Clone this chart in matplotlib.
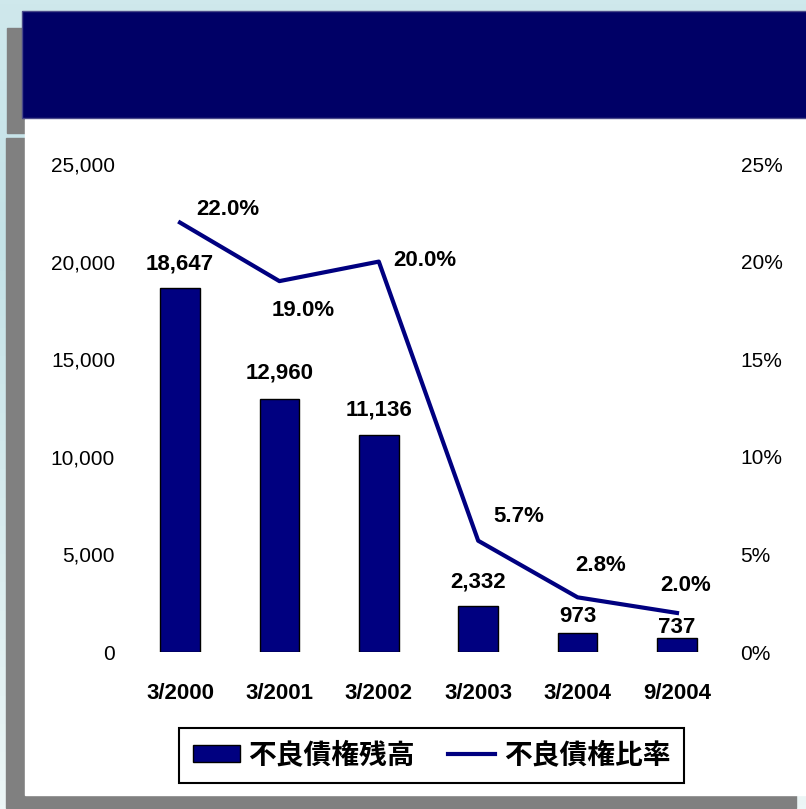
import numpy as np
import matplotlib.pyplot as plt
from matplotlib.patches import Rectangle, Patch
from matplotlib.lines import Line2D

# bad-loan balance (100 million yen) and bad-loan ratio (%)
periods = ['3/2000', '3/2001', '3/2002', '3/2003', '3/2004', '9/2004']
npl_balance = [18647, 12960, 11136, 2332, 973, 737]
npl_ratio = [22.0, 19.0, 20.0, 5.7, 2.8, 2.0]
legend_labels = ['不良債権残高', '不良債権比率']

# label offsets in pixels (dx, dy)
bar_label_dy = [24, 26, 25, 24, 17, 10]
ratio_label_off = [(48, 13), (24, -29), (46, 1), (41, 24), (23, 32), (9, 27)]

navy = '#000080'
latin = 'Liberation Sans'
cjk = ['Noto Sans CJK JP', 'DejaVu Sans']

W, H = 806, 809
fig = plt.figure(figsize=(W / 100, H / 100), dpi=100)

# slide background, shadows, white panel and title banner (pixel coords)
bg = fig.add_axes([0, 0, 1, 1])
bg.set_xlim(0, W)
bg.set_ylim(H, 0)
bg.axis('off')
top = np.array([207, 232, 236]) / 255
mid = np.array([196, 226, 231]) / 255
bot = np.array([236, 246, 246]) / 255
t = np.linspace(0, 1, 200)[:, None]
grad = np.where(t < 0.3, top + (mid - top) * (t / 0.3), mid + (bot - mid) * ((t - 0.3) / 0.7))
bg.imshow(grad[:, None, :], extent=[0, W, H, 0], aspect='auto', zorder=0)
bg.add_patch(Rectangle((7, 28), 780, 105, color='#808080', zorder=1))
bg.add_patch(Rectangle((6, 138), 790, 670, color='#808080', zorder=1))
bg.add_patch(Rectangle((25, 119), 800, 676, color='white', zorder=2))
bg.add_patch(Rectangle((22, 11), 800, 107, facecolor='#000066', edgecolor='#4a4a8a',
                       linewidth=1, zorder=3))

ax = fig.add_axes([130.3 / W, 157 / H, 596.4 / W, 488 / H])
ax.patch.set_visible(False)
x = np.arange(len(periods))
ax.bar(x, npl_balance, width=0.4, color=navy, edgecolor='black', linewidth=1, zorder=2)
ax.set_xlim(-0.5, 5.5)
ax.set_ylim(0, 25000)
ax.set_yticks(range(0, 25001, 5000))
ax.set_yticklabels([f'{v:,}' for v in range(0, 25001, 5000)], family=latin, fontsize=15)
ax.set_xticks(x)
ax.set_xticklabels(periods, family=latin, fontsize=16, fontweight='bold')
ax.tick_params(axis='x', length=0, pad=22)
ax.tick_params(axis='y', length=0, pad=11)
for s in ax.spines.values():
    s.set_visible(False)

for xi, v, dy in zip(x, npl_balance, bar_label_dy):
    ax.annotate(f'{v:,}', (xi, v), xytext=(0, dy), textcoords='offset pixels',
                ha='center', va='center', family=latin, fontsize=16, fontweight='bold')

ax2 = ax.twinx()
ax2.plot(x, npl_ratio, color=navy, linewidth=3, zorder=3)
ax2.set_ylim(0, 25)
ax2.set_yticks(range(0, 26, 5))
ax2.set_yticklabels([f'{v}%' for v in range(0, 26, 5)], family=latin, fontsize=15)
ax2.tick_params(axis='y', length=0, pad=10)
for s in ax2.spines.values():
    s.set_visible(False)

for xi, v, (dx, dy) in zip(x, npl_ratio, ratio_label_off):
    ax2.annotate(f'{v:.1f}%', (xi, v), xytext=(dx, dy), textcoords='offset pixels',
                 ha='center', va='center', family=latin, fontsize=16, fontweight='bold')

handles = [Patch(facecolor=navy, edgecolor='black', linewidth=1),
           Line2D([], [], color=navy, linewidth=3)]
leg = fig.legend(handles, legend_labels, loc='center', ncol=2,
                 bbox_to_anchor=(431.5 / W, 1 - 755.5 / H),
                 prop={'family': cjk, 'size': 20, 'weight': 'bold'},
                 frameon=True, fancybox=False, framealpha=1, edgecolor='black',
                 handlelength=1.7, handleheight=0.55, handletextpad=0.3,
                 columnspacing=1.2, borderpad=0.5, borderaxespad=0)
leg.get_frame().set_linewidth(1.5)

fig.savefig('out.png', dpi=100)
